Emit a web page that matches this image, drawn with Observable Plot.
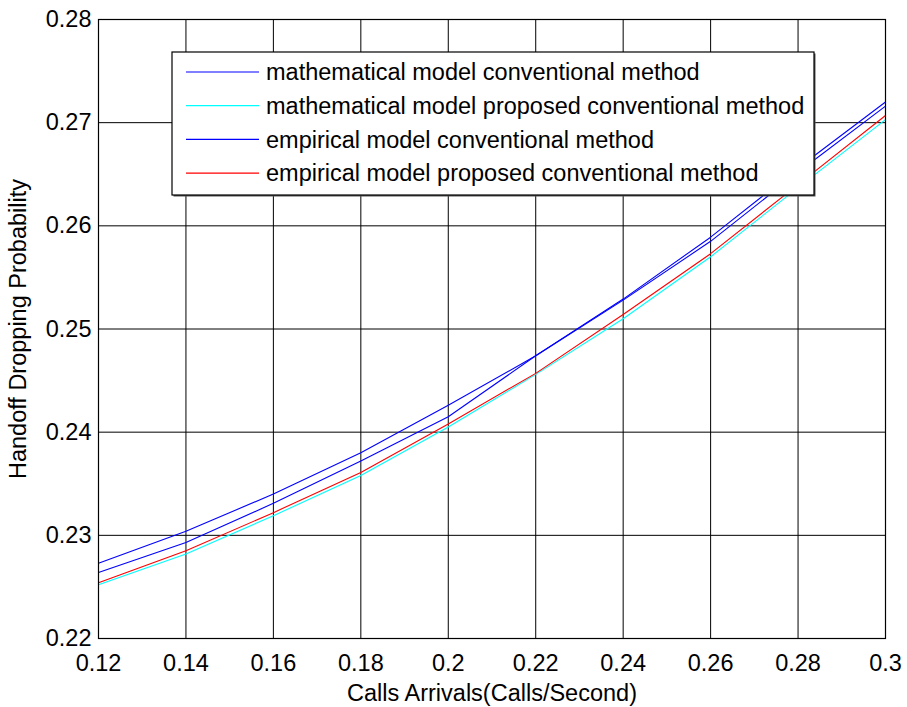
<!DOCTYPE html>
<html>
<head>
<meta charset="utf-8">
<script src="https://cdn.jsdelivr.net/npm/d3@7"></script>
<script src="https://cdn.jsdelivr.net/npm/@observablehq/plot@0.6"></script>
<style>
  html, body { margin: 0; padding: 0; background: #fff; }
  #chart { width: 907px; height: 707px; }
</style>
</head>
<body>
<div id="chart"></div>
<script>
// Data
const arrivals = [0.12, 0.14, 0.16, 0.18, 0.20, 0.22, 0.24, 0.26, 0.28, 0.30];
const mathConventional   = [0.2273, 0.2304, 0.2340, 0.2380, 0.2426, 0.2474, 0.2528, 0.2585, 0.2652, 0.2716];
const mathProposed       = [0.2252, 0.2282, 0.2319, 0.2358, 0.2405, 0.2456, 0.2510, 0.2570, 0.2637, 0.2703];
const empConventional    = [0.2264, 0.2293, 0.2331, 0.2372, 0.2415, 0.2474, 0.2529, 0.2589, 0.2656, 0.2720];
const empProposed        = [0.2254, 0.2285, 0.2322, 0.2361, 0.2408, 0.2457, 0.2514, 0.2573, 0.2640, 0.2707];
const seriesNames = [
  "mathematical model conventional method",
  "mathematical model proposed conventional method",
  "empirical model conventional method",
  "empirical model proposed conventional method"
];
const seriesColors = ["#0000ff", "#00ffff", "#0000ff", "#ff0000"];
const xTicks = [0.12, 0.14, 0.16, 0.18, 0.20, 0.22, 0.24, 0.26, 0.28, 0.30];
const yTicks = [0.22, 0.23, 0.24, 0.25, 0.26, 0.27, 0.28];

const seriesValues = [mathConventional, mathProposed, empConventional, empProposed];
const rows = [];
seriesValues.forEach((vals, s) => {
  vals.forEach((v, i) => rows.push({x: arrivals[i], y: v, series: seriesNames[s]}));
});

const fmt = d => String(+d.toFixed(2));
const font = "'Liberation Sans', Arial, Helvetica, sans-serif";
const fs = 23.5;

const plot = Plot.plot({
  width: 907,
  height: 707,
  marginLeft: 98,
  marginRight: 22,
  marginTop: 19,
  marginBottom: 69,
  style: {fontFamily: font, fontSize: fs + "px", background: "#fff", color: "#000", overflow: "visible"},
  x: {domain: [0.12, 0.30]},
  y: {domain: [0.22, 0.28]},
  color: {domain: seriesNames, range: seriesColors},
  marks: [
    Plot.gridX(xTicks, {stroke: "#000", strokeOpacity: 1, strokeWidth: 1}),
    Plot.gridY(yTicks, {stroke: "#000", strokeOpacity: 1, strokeWidth: 1}),
    Plot.axisX(xTicks, {tickSize: 0, tickPadding: 16, tickFormat: fmt, fontSize: fs,
      label: "Calls Arrivals(Calls/Second)", labelAnchor: "center", labelArrow: "none", labelOffset: 62}),
    Plot.axisY(yTicks, {tickSize: 0, tickPadding: 7, tickFormat: fmt, fontSize: fs,
      label: "Handoff Dropping Probability", labelAnchor: "center", labelArrow: "none", labelOffset: 89}),
    Plot.line(rows, {x: "x", y: "y", z: "series", stroke: "series", strokeWidth: 1.1}),
    Plot.frame({stroke: "#000", strokeWidth: 1.2})
  ]
});

document.getElementById("chart").appendChild(plot);

// Legend drawn into the SVG (box inside the plot area)
const svg = d3.select(plot);
const lg = svg.append("g").attr("font-family", font).attr("font-size", fs).attr("text-anchor", "start");
const box = {x: 172, y: 52, w: 642, h: 143};
lg.append("rect").attr("x", box.x + 1.5).attr("y", box.y + 1.5).attr("width", box.w).attr("height", box.h)
  .attr("fill", "#555");
lg.append("rect").attr("x", box.x).attr("y", box.y).attr("width", box.w).attr("height", box.h)
  .attr("fill", "#fff").attr("stroke", "#000").attr("stroke-width", 1.2);
seriesNames.forEach((name, i) => {
  const yy = 72 + i * 33.7;
  lg.append("line").attr("x1", 186).attr("x2", 259).attr("y1", yy).attr("y2", yy)
    .attr("stroke", seriesColors[i]).attr("stroke-width", 1.2);
  lg.append("text").attr("x", 266).attr("y", yy).attr("dy", "0.35em")
    .attr("text-anchor", "start").attr("fill", "#000").text(name);
});
</script>
</body>
</html>
